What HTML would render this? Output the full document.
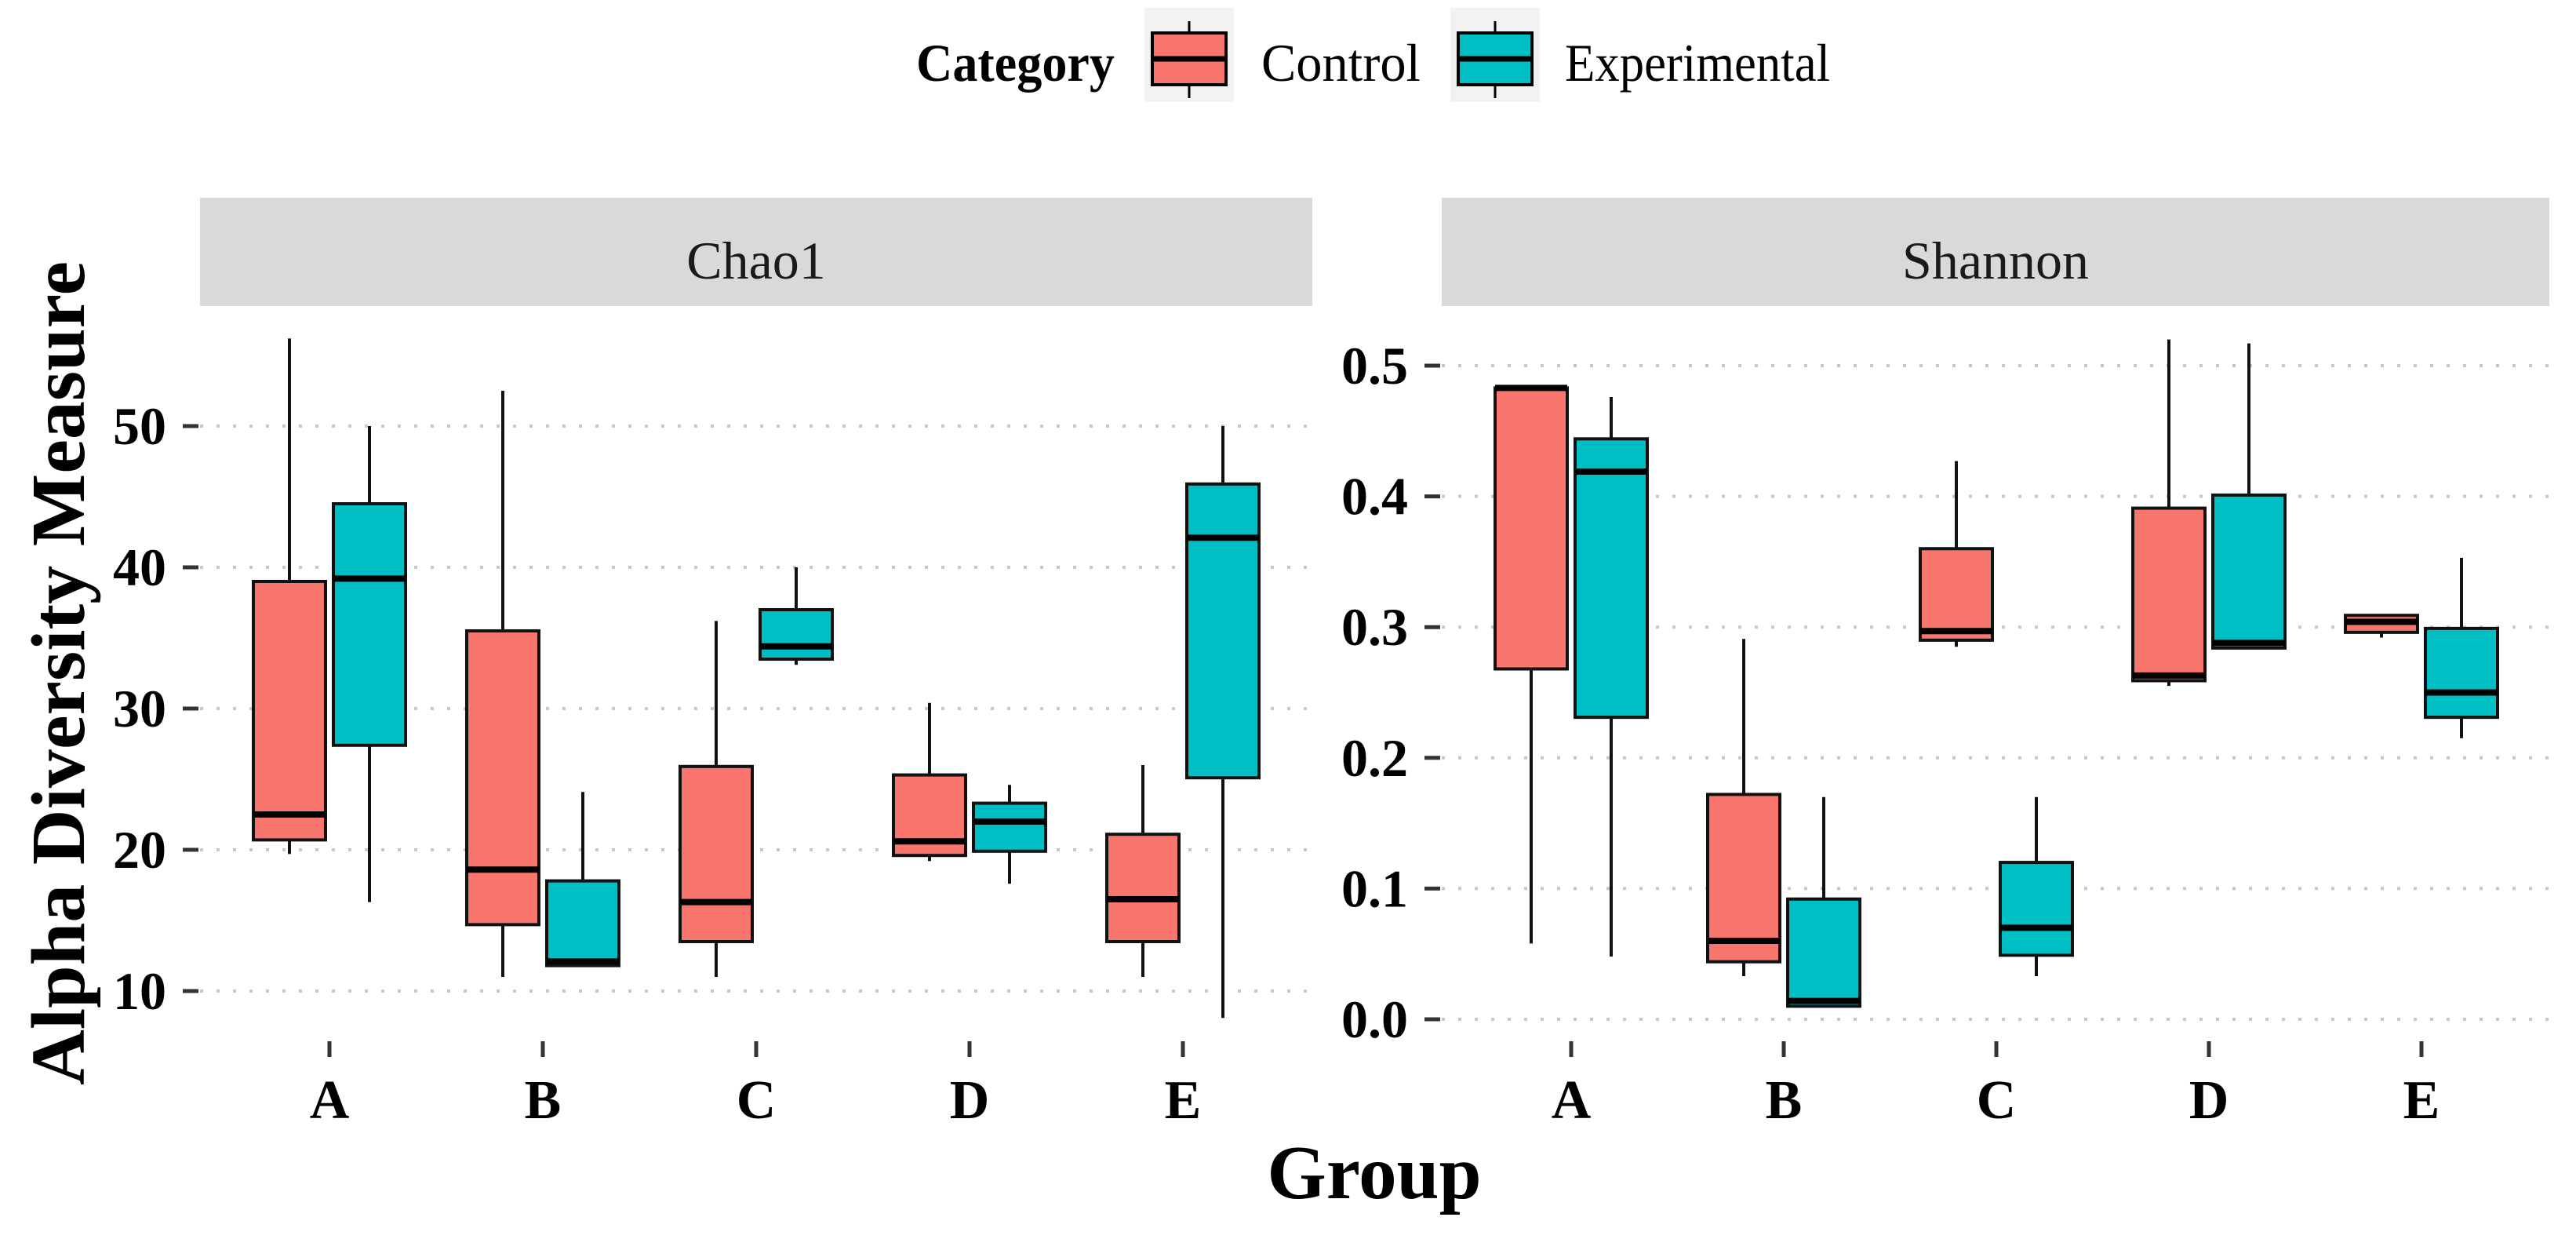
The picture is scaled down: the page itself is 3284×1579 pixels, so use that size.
<!DOCTYPE html>
<html><head><meta charset="utf-8"><style>
html,body{margin:0;padding:0;background:#fff;}
svg{display:block;font-family:"Liberation Serif",serif;}
</style></head><body>
<svg id="chart" width="3284" height="1579" viewBox="0 0 3284 1579" xmlns="http://www.w3.org/2000/svg">
<g id="legend">
  <text x="1168" y="103" font-size="68" font-weight="bold" textLength="253" lengthAdjust="spacingAndGlyphs">Category</text>
  <g>
    <rect x="1459" y="10" width="114" height="120" fill="#f2f2f2"/>
    <line x1="1516" y1="27" x2="1516" y2="125" stroke="#000" stroke-width="3"/>
    <rect x="1469" y="42" width="94" height="66" fill="#F8766D" stroke="#000" stroke-width="4"/>
    <line x1="1469" y1="75" x2="1563" y2="75" stroke="#000" stroke-width="7"/>
    <text x="1608" y="103" font-size="68" textLength="203" lengthAdjust="spacingAndGlyphs">Control</text>
  </g>
  <g>
    <rect x="1849" y="10" width="114" height="120" fill="#f2f2f2"/>
    <line x1="1906" y1="27" x2="1906" y2="125" stroke="#000" stroke-width="3"/>
    <rect x="1859" y="42" width="94" height="66" fill="#00BFC4" stroke="#000" stroke-width="4"/>
    <line x1="1859" y1="75" x2="1953" y2="75" stroke="#000" stroke-width="7"/>
    <text x="1995" y="103" font-size="68" textLength="338" lengthAdjust="spacingAndGlyphs">Experimental</text>
  </g>
</g>
<text transform="translate(107,858) rotate(-90)" text-anchor="middle" font-size="97" font-weight="bold" textLength="1050" lengthAdjust="spacingAndGlyphs">Alpha Diversity Measure</text>
<text x="1752" y="1527" text-anchor="middle" font-size="97" font-weight="bold">Group</text>
<g id="panels"></g>
</svg>
<script>
const categories = ["A","B","C","D","E"];
const seriesNames = ["Control","Experimental"];
const chaoTicks = [10,20,30,40,50];
const chaoTickLabels = ["10","20","30","40","50"];
const shanTicks = [0,0.1,0.2,0.3,0.4,0.5];
const shanTickLabels = ["0.0","0.1","0.2","0.3","0.4","0.5"];
// [low, q1, median, q3, high] per category
const chaoControl = [[19.7,20.7,22.5,39.0,56.2],[11,14.7,18.6,35.5,52.5],[11,13.5,16.3,25.9,36.2],[19.2,19.6,20.6,25.3,30.4],[11,13.5,16.5,21.1,26]];
const chaoExperimental = [[16.3,27.4,39.2,44.5,50],[11.8,11.8,12.1,17.8,24.1],[33.1,33.5,34.4,37,40],[17.6,19.9,22,23.3,24.6],[8.1,25.1,42.1,45.9,50]];
const shanControl = [[0.058,0.268,0.483,0.483,0.483],[0.033,0.044,0.060,0.172,0.291],[0.285,0.290,0.297,0.360,0.427],[0.255,0.259,0.263,0.391,0.520],[0.292,0.296,0.304,0.309,0.309]];
const shanExperimental = [[0.048,0.231,0.419,0.444,0.476],[0.010,0.010,0.014,0.092,0.170],[0.033,0.049,0.070,0.120,0.170],[0.284,0.284,0.288,0.401,0.517],[0.215,0.231,0.250,0.299,0.353]];

const NS="http://www.w3.org/2000/svg";
const root=document.getElementById('panels');
function mk(tag,attrs,parent){const e=document.createElementNS(NS,tag);for(const k in attrs)e.setAttribute(k,attrs[k]);parent.appendChild(e);return e;}

function panel(cfg){
  const g=mk('g',{},root);
  
  
  const yScale=v=>cfg.y0+(v-cfg.v0)*(cfg.y1-cfg.y0)/(cfg.v1-cfg.v0);
  const xScale=i=>cfg.xA+i*cfg.step;
  const strip=mk('rect',{x:cfg.left,y:252,width:cfg.right-cfg.left,height:138,fill:'#d9d9d9'},g);
  
  
  const st=mk('text',{x:(cfg.left+cfg.right)/2,y:355,'text-anchor':'middle','font-size':68,fill:'#1a1a1a'},g);
  st.textContent=cfg.title;
  
  
  cfg.ticks.forEach((t,i)=>{
    const y=yScale(t);
    const gl=mk('line',{x1:cfg.left,x2:cfg.right,y1:y,y2:y,stroke:'#c8c8c8','stroke-width':4,'stroke-dasharray':'4 17'},g);
    
    
    mk('line',{x1:cfg.left-22,x2:cfg.left-2,y1:y,y2:y,stroke:'#333','stroke-width':5},g);
    const tl=mk('text',{x:cfg.labRight,y:y+23,'text-anchor':'end','font-size':68,'font-weight':'bold'},g);
    tl.textContent=cfg.tickLabels[i];
    
    
  });
  categories.forEach((c,i)=>{
    const x=xScale(i);
    mk('line',{x1:x,x2:x,y1:1327,y2:1347,stroke:'#333','stroke-width':5},g);
    const xl=mk('text',{x:x,y:1425,'text-anchor':'middle','font-size':70,'font-weight':'bold'},g);
    xl.textContent=c;
    
    
  });
  [cfg.ctrl,cfg.exp].forEach((series,si)=>{
    const fill=si===0?'#F8766D':'#00BFC4';
    series.forEach((d,i)=>{
      const cx=xScale(i)+(si===0?-51:51);
      const w=92;
      const bg=mk('g',{},g);
      
      
      mk('line',{x1:cx,x2:cx,y1:yScale(d[4]),y2:yScale(d[0]),stroke:'#111','stroke-width':4},bg);
      const top=yScale(d[3]),bot=yScale(d[1]);
      mk('rect',{x:cx-w/2,y:top,width:w,height:Math.max(bot-top,1),fill:fill,stroke:'#111','stroke-width':4},bg);
      const my=yScale(d[2]);
      mk('line',{x1:cx-w/2,x2:cx+w/2,y1:my,y2:my,stroke:'#000','stroke-width':8},bg);
    });
  });
}
panel({name:'chao1',title:'Chao1',left:255,right:1673,xA:420,step:272,labRight:212,
  v0:50,v1:10,y0:543,y1:1263,ticks:chaoTicks,tickLabels:chaoTickLabels,ctrl:chaoControl,exp:chaoExperimental});
panel({name:'shannon',title:'Shannon',left:1838,right:3250,xA:2003,step:271,labRight:1795,
  v0:0,v1:0.5,y0:1299,y1:466,ticks:shanTicks,tickLabels:shanTickLabels,ctrl:shanControl,exp:shanExperimental});
</script>
</body></html>
